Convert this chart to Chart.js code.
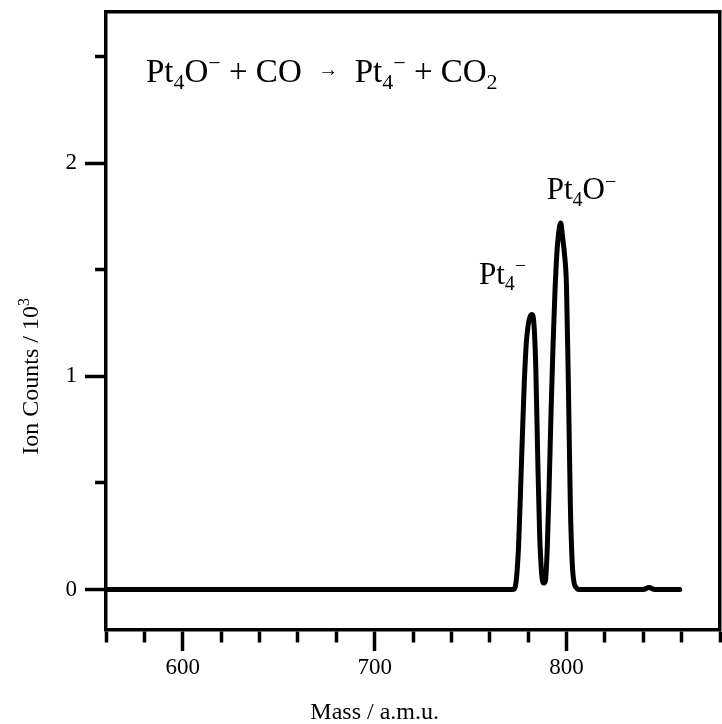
<!DOCTYPE html>
<html><head><meta charset="utf-8">
<script src="https://cdn.jsdelivr.net/npm/chart.js@4"></script>
<style>html,body{margin:0;padding:0;background:#fff}#wrap{width:722px;height:724px}</style>
</head><body><div id="wrap"><canvas id="c" width="722" height="724"></canvas></div>
<script>
// ---- data ----
const massValues = [560, 600, 650, 700, 750, 770, 772,
  773, 774, 775, 776, 777, 778, 779, 780, 781, 782, 783, 784, 785, 786, 787, 788, 789,
  790, 791, 792, 793, 794, 795, 796, 797, 798, 799, 800, 801, 802, 803, 804, 805, 806,
  820, 840, 843, 846, 859];
const ionCounts = [0, 0, 0, 0, 0, 0, 0,
  0.005, 0.06, 0.2, 0.45, 0.72, 0.97, 1.15, 1.24, 1.28, 1.29, 1.25, 1.04, 0.62, 0.26, 0.08, 0.03, 0.04,
  0.2, 0.5, 0.85, 1.15, 1.4, 1.58, 1.68, 1.72, 1.65, 1.57, 1.42, 0.95, 0.4, 0.12, 0.03, 0.01, 0,
  0, 0, 0.01, 0, 0];
const xTickLabels = [600, 700, 800];
const yTickLabels = [0, 1, 2];
const xTitle = 'Mass / a.m.u.';
const yTitle = ['Ion Counts / 10', '3'];
const equation = [['Pt',0],['4',1],['O',0],['\u2212',2],[' + CO  ',0],['\u2192',3],['  Pt',0],['4',1],['\u2212',2],[' + CO',0],['2',1]];
const peakLabels = [
  {mass: 781.5, value: 1.29, parts: [['Pt',0],['4',1],['\u2212',2]]},
  {mass: 797, value: 1.72, parts: [['Pt',0],['4',1],['O',0],['\u2212',2]]}
];

const FONT = '"Liberation Serif", "Times New Roman", serif';

function drawRich(ctx, parts, x, y, size, align) {
  const fontFor = k => (k === 3 ? Math.round(size*0.6) : k ? Math.round(size*0.66) : size) + 'px ' + FONT;
  let w = 0;
  parts.forEach(([t,k]) => { ctx.font = fontFor(k); w += ctx.measureText(t).width; });
  let cx = align === 'center' ? x - w/2 : x;
  parts.forEach(([t,k]) => {
    ctx.font = fontFor(k);
    const dy = k === 1 ? size*0.22 : k === 2 ? -size*0.36 : k === 3 ? -size*0.18 : 0;
    ctx.fillText(t, cx, y + dy);
    cx += ctx.measureText(t).width;
  });
  return w;
}

const textPlugin = {
  id: 'texts',
  afterDraw(chart) {
    const ctx = chart.ctx;
    const xs = chart.scales.x, ys = chart.scales.y;
    ctx.save();
    ctx.fillStyle = '#000';
    ctx.textBaseline = 'alphabetic';
    ctx.textAlign = 'left';
    // axis titles
    drawRich(ctx, [[xTitle,0]], xs.getPixelForValue(700), 719, 24, 'center');
    ctx.save();
    ctx.translate(38, ys.getPixelForValue(1));
    ctx.rotate(-Math.PI/2);
    drawRich(ctx, [[yTitle[0],0],[yTitle[1],2]], 0, 0, 24, 'center');
    ctx.restore();
    // equation
    drawRich(ctx, equation, chart.chartArea.left + 40, 82, 33, 'left');
    // peak labels
    drawRich(ctx, peakLabels[0].parts, xs.getPixelForValue(peakLabels[0].mass) - 52, ys.getPixelForValue(peakLabels[0].value) - 31, 31, 'left');
    drawRich(ctx, peakLabels[1].parts, xs.getPixelForValue(peakLabels[1].mass) - 14, ys.getPixelForValue(peakLabels[1].value) - 24, 31, 'left');
    ctx.restore();
  }
};

const AXW = 3.5;
const noPad = s => { s.paddingLeft = 0; s.paddingRight = 0; s.paddingTop = 0; s.paddingBottom = 0; };
new Chart(document.getElementById('c'), {
  type: 'scatter',
  data: {
    datasets: [{
      data: massValues.map((m, i) => ({x: m, y: ionCounts[i]})),
      showLine: true,
      borderColor: '#000',
      backgroundColor: '#000',
      borderWidth: 5,
      pointRadius: 0,
      cubicInterpolationMode: 'monotone',
      borderJoinStyle: 'round',
      borderCapStyle: 'round'
    }]
  },
  options: {
    responsive: false,
    animation: false,
    devicePixelRatio: 1,
    layout: {padding: {left: 0, right: 1, top: 0, bottom: 0}},
    plugins: {legend: {display: false}, tooltip: {enabled: false}},
    scales: {
      x: {
        type: 'linear', position: 'bottom', min: 560, max: 880,
        border: {display: true, color: '#000', width: AXW},
        grid: {
          drawOnChartArea: false, drawTicks: true, tickLength: 21, tickWidth: AXW, tickColor: '#000',
          tickBorderDash: c => (xTickLabels.includes(c.tick && c.tick.value) ? [] : [11, 60])
        },
        ticks: {
          stepSize: 20, autoSkip: false, maxRotation: 0, color: '#000', padding: 3,
          font: {family: FONT, size: 23},
          callback: v => (xTickLabels.includes(v) ? String(v) : '')
        },
        afterFit: s => { s.height = 94; noPad(s); }
      },
      xTop: {
        type: 'linear', position: 'top', min: 560, max: 880,
        border: {display: true, color: '#000', width: AXW},
        grid: {display: false, drawTicks: false},
        ticks: {display: false},
        afterFit: s => { s.height = 12; noPad(s); }
      },
      y: {
        type: 'linear', position: 'left', min: -0.19, max: 2.71,
        border: {display: true, color: '#000', width: AXW},
        grid: {
          drawOnChartArea: false, drawTicks: true, tickLength: 21, tickWidth: AXW, tickColor: '#000',
          tickBorderDash: c => (yTickLabels.includes(c.tick && c.tick.value) ? [] : [0, 10, 40])
        },
        ticks: {
          stepSize: 0.5, includeBounds: false, autoSkip: false, color: '#000', padding: 8,
          font: {family: FONT, size: 23},
          callback: v => (yTickLabels.includes(v) ? String(v) : '')
        },
        afterFit: s => { s.width = 106; noPad(s); }
      },
      yRight: {
        type: 'linear', position: 'right', min: -0.19, max: 2.71,
        border: {display: true, color: '#000', width: AXW},
        grid: {display: false, drawTicks: false},
        ticks: {display: false},
        afterFit: s => { s.width = 1; noPad(s); }
      }
    }
  },
  plugins: [textPlugin]
});
</script>
</body></html>
